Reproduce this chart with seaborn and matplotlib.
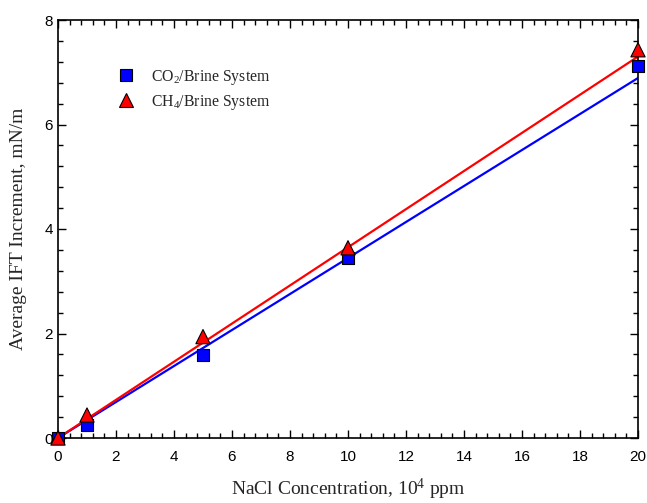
import matplotlib
matplotlib.use("Agg")
import matplotlib.pyplot as plt
import seaborn as sns
import pandas as pd
from matplotlib.ticker import MultipleLocator

# Data
nacl = [0, 1, 5, 10, 20]
co2_ift = [0.0, 0.25, 1.59, 3.45, 7.12]
ch4_ift = [0.0, 0.44, 1.94, 3.64, 7.43]
fit_x = [0, 20]
co2_fit = [0.0, 6.89]
ch4_fit = [0.0, 7.30]
labels = ["CO$_2$/Brine System", "CH$_4$/Brine System"]

sns.set_theme(style="ticks")
plt.rcParams['font.family'] = ['Liberation Sans', 'DejaVu Sans']
plt.rcParams['mathtext.fontset'] = 'custom'
plt.rcParams['mathtext.rm'] = 'Liberation Serif'
plt.rcParams['mathtext.it'] = 'Liberation Serif:italic'

fig = plt.figure(figsize=(6.47, 5.03), dpi=100)
ax = fig.add_axes([58/647, 65/503, 580/647, 418/503])

dfit = pd.DataFrame({"x": fit_x + fit_x, "y": co2_fit + ch4_fit,
                     "s": [labels[0]] * 2 + [labels[1]] * 2})
pal = {labels[0]: "#0000ff", labels[1]: "#ff0000"}
sns.lineplot(data=dfit, x="x", y="y", hue="s", palette=pal, ax=ax,
             linewidth=1.6, legend=False)

df_co2 = pd.DataFrame({"x": nacl, "y": co2_ift, "s": labels[0]})
df_ch4 = pd.DataFrame({"x": nacl, "y": ch4_ift, "s": labels[1]})
sns.scatterplot(data=df_co2, x="x", y="y", hue="s", palette=pal, marker="s", s=78,
                edgecolor="black", linewidth=0.8, ax=ax, zorder=5, clip_on=False)
sns.scatterplot(data=df_ch4, x="x", y="y", hue="s", palette=pal, marker="^", s=105,
                edgecolor="black", linewidth=0.8, ax=ax, zorder=6, clip_on=False)

ax.set_xlim(0, 20)
ax.set_ylim(0, 8)
ax.xaxis.set_major_locator(MultipleLocator(2))
ax.xaxis.set_minor_locator(MultipleLocator(0.4))
ax.yaxis.set_major_locator(MultipleLocator(2))
ax.yaxis.set_minor_locator(MultipleLocator(0.4))
ax.tick_params(which="both", direction="in", top=True, right=True, colors="black",
               labelsize=11)
ax.tick_params(which="major", length=6, width=1)
ax.tick_params(which="minor", length=3.5, width=1)
ax.tick_params(axis="x", which="major", pad=8.5)
for sp in ax.spines.values():
    sp.set_linewidth(1.2)
    sp.set_color("black")

serif = ['Liberation Serif', 'DejaVu Serif']
ax.set_xlabel("NaCl Concentration, 10$^4$ ppm", fontsize=14, family=serif, labelpad=9)
ax.set_ylabel("Average IFT Increment, mN/m", fontsize=14, family=serif, labelpad=13)

leg = ax.legend(loc="upper left", bbox_to_anchor=(0.065, 0.92), frameon=False,
                prop={"family": serif, "size": 11.3}, handletextpad=0.6,
                labelspacing=0.4, markerscale=1.0)
for h in leg.legend_handles:
    try:
        h.set_markeredgecolor("black")
    except AttributeError:
        h.set_edgecolor("black")

fig.savefig("out.png", dpi=100, facecolor="white")
